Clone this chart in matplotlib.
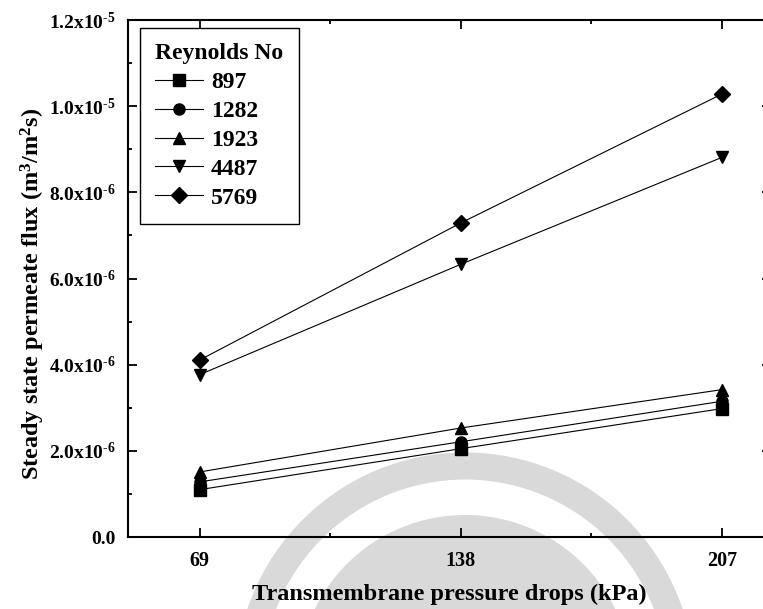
import matplotlib
matplotlib.use("Agg")
import matplotlib.pyplot as plt
from matplotlib.patches import Circle
from matplotlib.ticker import FixedLocator, FixedFormatter, MultipleLocator

# Transmembrane pressure drop (kPa)
pressure = [69, 138, 207]

# Steady state permeate flux (m^3/m^2 s) for each Reynolds number
reynolds = ["897", "1282", "1923", "4487", "5769"]
flux_897 = [1.10e-6, 2.05e-6, 2.98e-6]
flux_1282 = [1.28e-6, 2.21e-6, 3.15e-6]
flux_1923 = [1.51e-6, 2.53e-6, 3.42e-6]
flux_4487 = [3.77e-6, 6.33e-6, 8.81e-6]
flux_5769 = [4.11e-6, 7.29e-6, 1.028e-5]
markers = ["s", "o", "^", "v", "D"]

x_ticks = [69, 138, 207]
x_tick_labels = ["69", "138", "207"]
y_ticks = [0.0, 2e-6, 4e-6, 6e-6, 8e-6, 1.0e-5, 1.2e-5]
y_tick_labels = ["0.0", "2.0x10$^{\u20106}$", "4.0x10$^{\u20106}$", "6.0x10$^{\u20106}$",
                 "8.0x10$^{\u20106}$", "1.0x10$^{\u20105}$", "1.2x10$^{\u20105}$"]

plt.rcParams.update({
    "font.family": "Liberation Serif",
    "font.weight": "bold",
    "axes.labelweight": "bold",
    "mathtext.fontset": "custom",
    "mathtext.rm": "Liberation Serif:bold",
    "mathtext.it": "Liberation Serif:bold:italic",
    "mathtext.bf": "Liberation Serif:bold",
})

W, H = 763, 609
fig = plt.figure(figsize=(W / 100, H / 100), dpi=100)

# faint emblem in the page background: a ring around a filled disc
bg = fig.add_axes([0, 0, 1, 1], zorder=0)
bg.set_xlim(0, W)
bg.set_ylim(H, 0)
bg.axis("off")
shade = "#d9d9d9"
bg.add_patch(Circle((465, 682), 216, fill=False, lw=19.5, edgecolor=shade))
bg.add_patch(Circle((465, 682), 167, fill=True, lw=0, facecolor=shade))

left, right, top, bottom = 128, 771, 20, 537
ax = fig.add_axes([left / W, 1 - bottom / H, (right - left) / W, (bottom - top) / H], zorder=1)
ax.patch.set_alpha(0)

series = [flux_897, flux_1282, flux_1923, flux_4487, flux_5769]
for name, vals, m in zip(reynolds, series, markers):
    ax.plot(pressure, vals, color="black", lw=0.8, marker=m, markersize=8,
            markerfacecolor="black", markeredgecolor="black", label=name)

ax.set_xlim(50, 220)
ax.set_ylim(0, 1.2e-5)
ax.xaxis.set_major_locator(FixedLocator(x_ticks))
ax.xaxis.set_major_formatter(FixedFormatter(x_tick_labels))
ax.xaxis.set_minor_locator(MultipleLocator(34.5))
ax.yaxis.set_major_locator(FixedLocator(y_ticks))
ax.yaxis.set_major_formatter(FixedFormatter(y_tick_labels))
ax.yaxis.set_minor_locator(MultipleLocator(1e-6))

for s in ax.spines.values():
    s.set_linewidth(1.5)
ax.tick_params(which="both", direction="in", top=True, right=True, width=1.3)
ax.tick_params(which="major", length=6.5)
ax.tick_params(which="minor", length=3.2)
ax.tick_params(axis="x", which="major", labelsize=14.5, pad=10)
ax.tick_params(axis="y", which="major", labelsize=14, pad=9)

ax.set_xlabel("Transmembrane pressure drops (kPa)", fontsize=17.5, labelpad=9)
ax.set_ylabel("Steady state permeate flux (m$^{3}$/m$^{2}$s)", fontsize=17.5)
ax.yaxis.set_label_coords((47 - left) / (right - left), (bottom - 294) / (bottom - top))

leg = ax.legend(title="Reynolds No", loc="upper left",
                bbox_to_anchor=((140 - left) / (right - left), (bottom - 28) / (bottom - top)),
                borderaxespad=0, frameon=True, fancybox=False, edgecolor="black",
                framealpha=1, fontsize=17, title_fontsize=17, handlelength=2.0,
                handletextpad=0.35, labelspacing=0.31, borderpad=0.65,
                alignment="left")
leg.get_frame().set_linewidth(1.0)
leg.get_title().set_fontweight("bold")

fig.savefig("out.png", dpi=100)
